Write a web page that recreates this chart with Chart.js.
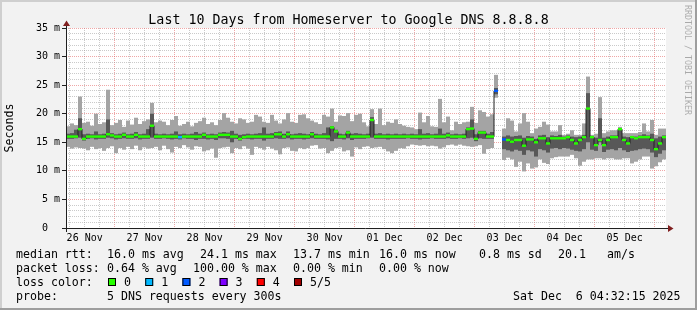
<!DOCTYPE html>
<html><head><meta charset="utf-8">
<script src="https://cdn.jsdelivr.net/npm/chart.js@4.4.1/dist/chart.umd.min.js"></script>
<style>html,body{margin:0;padding:0;background:#f2f2f2;}canvas{display:block;}</style>
</head><body>
<canvas id="c" width="697" height="310"></canvas>
<script>
// ---- data ----
const dayLabels = ['26 Nov','27 Nov','28 Nov','29 Nov','30 Nov','01 Dec','02 Dec','03 Dec','04 Dec','05 Dec'];
const startMinute = 272;     // 26 Nov 04:32 (minutes after 26 Nov 00:00)
const spanMinutes = 14400;   // 10 days
const stepMinutes = 96;      // one sample column
const hiVals = [17.8,18.3,18.0,23.0,18.4,18.6,17.9,20.0,18.2,18.5,
 24.2,18.0,18.4,18.9,17.7,18.8,18.1,19.3,18.2,18.7,
 19.0,21.9,18.5,18.8,18.6,18.0,18.9,19.6,17.9,18.2,
 18.6,17.8,18.4,18.7,19.3,18.2,18.5,18.0,18.9,20.1,
 19.3,18.6,18.3,19.2,19.0,18.4,18.6,19.8,19.5,18.6,
 18.4,19.8,18.8,18.3,19.0,20.1,18.6,18.4,19.8,19.9,
 19.2,18.8,18.5,18.2,19.8,19.5,20.9,18.6,19.7,19.6,
 20.1,18.7,19.8,20.0,18.5,17.8,20.8,18.2,20.9,18.0,
 18.6,18.4,19.0,18.2,17.9,17.7,17.6,17.3,20.2,18.5,
 19.6,17.8,17.7,22.6,18.5,19.5,17.1,18.6,18.2,18.5,
 18.6,21.2,18.4,20.6,20.3,19.5,19.9,26.8,null,17.4,
 19.2,18.8,16.9,18.3,20.1,18.6,16.6,17.4,17.7,18.6,
 18.1,16.9,16.9,18.0,16.3,16.5,17.1,16.3,16.3,18.3,
 26.5,16.3,16.5,22.9,16.6,16.9,17.1,17.1,17.7,16.6,
 16.6,16.6,16.6,16.8,18.3,16.9,18.9,16.3,17.4,17.4];
const loVals = [14.2,13.9,14.1,14.0,13.9,13.6,14.2,13.8,14.0,13.5,
 14.0,14.3,13.1,14.0,13.7,14.2,13.8,14.4,13.6,14.1,
 13.9,14.0,14.2,13.6,14.4,13.8,13.2,14.2,14.0,14.5,
 14.1,13.7,14.3,14.2,13.4,13.6,13.9,12.3,14.0,14.1,
 14.2,13.1,14.0,13.8,14.3,13.9,12.8,14.2,14.0,13.7,
 14.2,13.9,13.6,12.9,14.0,14.1,13.5,13.4,14.0,13.8,
 14.0,14.4,14.5,13.9,14.0,13.1,13.5,14.0,14.1,13.4,
 13.6,12.5,14.1,13.8,14.2,14.3,14.0,14.1,14.2,13.8,
 13.4,13.1,13.5,14.0,13.9,14.3,14.6,14.5,14.4,14.5,
 14.3,14.4,14.3,13.9,14.1,14.5,14.6,14.4,14.6,14.4,
 14.3,14.2,14.3,14.5,13.0,13.8,14.0,22.8,null,11.9,
 12.3,12.0,10.7,11.6,9.9,11.3,10.4,10.6,12.0,11.4,
 11.2,12.2,12.4,12.5,12.5,12.5,12.8,12.2,10.9,11.6,
 12.0,12.0,12.2,12.2,12.0,12.2,12.2,12.0,12.0,12.2,
 12.2,11.3,11.6,12.0,12.5,12.5,10.4,10.8,11.5,12.0];
const darkHi = [16.5,16.6,17.2,19.2,16.4,16.5,16.4,16.9,16.4,16.5,
 19.0,16.6,16.4,16.5,16.7,16.4,16.5,16.8,16.4,16.5,
 17.3,20.0,16.5,16.4,16.5,16.4,16.5,16.9,16.4,16.5,
 16.4,16.5,16.8,16.5,16.7,16.4,16.5,16.4,16.7,16.8,
 16.7,17.0,16.5,16.3,16.4,16.5,16.4,16.5,16.6,17.6,
 16.5,16.6,16.8,16.9,16.5,16.9,16.4,16.5,16.6,16.5,
 16.4,16.8,16.5,16.4,16.6,17.6,17.8,17.2,16.5,16.4,
 17.0,16.5,16.6,16.5,16.4,16.5,19.4,16.5,16.6,16.4,
 16.5,16.4,16.5,16.4,16.5,16.4,16.5,16.4,17.3,16.5,
 16.6,16.4,16.5,17.4,16.5,16.7,16.4,16.5,16.4,16.5,
 17.6,19.0,16.4,17.0,17.0,16.5,16.8,24.5,null,16.0,
 16.2,16.0,16.1,16.2,15.8,16.1,16.0,15.6,16.2,16.3,
 15.9,16.2,16.1,16.3,16.0,16.2,16.0,15.9,16.0,16.3,
 23.6,16.1,15.8,19.2,15.8,16.0,16.2,16.2,17.5,16.0,
 15.9,16.1,16.0,16.2,16.4,16.2,16.5,15.7,16.0,16.2];
const darkLo = [15.6,15.6,15.7,15.8,15.3,15.6,15.7,15.5,15.6,15.6,
 15.8,15.7,15.5,15.6,15.7,15.6,15.6,15.7,15.5,15.6,
 15.6,15.8,15.6,15.6,15.7,15.6,15.5,15.6,15.5,15.7,
 15.6,15.6,15.4,15.6,15.6,15.5,15.6,15.4,15.7,15.7,
 15.6,15.0,15.6,15.3,15.6,15.6,15.5,15.6,15.6,15.3,
 15.6,15.6,15.7,15.6,15.6,15.7,15.5,15.6,15.6,15.5,
 15.6,15.7,15.6,15.6,15.6,15.5,15.2,15.6,15.6,15.5,
 15.7,15.4,15.6,15.6,15.6,15.7,15.8,15.6,15.6,15.6,
 15.5,15.6,15.6,15.6,15.6,15.7,15.6,15.6,15.5,15.6,
 15.6,15.7,15.6,15.6,15.6,15.7,15.6,15.6,15.7,15.6,
 15.7,15.8,15.2,15.7,15.6,15.6,15.6,23.4,null,13.8,
 13.6,13.4,13.7,13.5,12.8,13.6,13.4,12.5,13.8,13.6,
 13.2,13.9,14.0,13.8,14.0,13.9,13.7,13.5,13.4,13.8,
 15.0,13.7,13.5,15.0,13.3,13.7,13.8,13.6,14.0,13.6,
 13.3,13.5,13.6,13.8,13.9,13.8,13.2,12.4,13.0,13.6];
const medVals = [16.0,16.0,16.0,17.3,15.6,16.0,16.0,16.0,16.0,16.0,
 16.4,16.2,16.0,16.0,16.3,16.0,16.0,16.3,16.0,16.0,
 16.0,17.9,16.0,16.0,16.0,16.0,16.0,16.0,15.9,16.0,
 16.0,16.0,16.0,16.0,16.3,16.0,16.0,16.0,16.3,16.3,
 16.3,16.0,16.0,15.6,15.9,16.0,16.0,16.0,16.0,16.0,
 16.0,16.0,16.4,16.4,16.0,16.4,16.0,16.0,16.0,16.0,
 16.0,16.4,16.0,16.0,16.0,16.0,17.6,16.9,16.0,16.0,
 16.7,16.0,16.0,16.0,16.0,16.0,18.9,16.0,16.0,16.0,
 16.0,16.0,16.0,16.0,16.0,16.0,16.0,16.0,16.0,16.0,
 16.0,16.0,16.0,16.0,16.0,16.2,16.0,16.0,16.0,16.0,
 17.3,17.4,15.6,16.7,16.7,16.0,16.0,24.0,null,15.5,
 15.4,15.1,15.4,15.4,14.4,15.5,15.5,15.0,15.7,15.7,
 14.8,15.7,15.7,15.7,15.7,15.9,15.4,14.8,15.4,15.9,
 20.9,15.9,14.5,15.4,14.5,15.4,15.9,15.9,17.3,15.4,
 14.8,15.9,15.7,15.9,15.9,15.9,15.4,13.8,14.8,15.9];
const lossVals = [0,0,0,0,0,0,0,0,0,0, 0,0,0,0,0,0,0,0,0,0,
 0,0,0,0,0,0,0,0,1,0, 0,0,0,0,0,0,0,0,0,0,
 0,0,0,0,0,0,0,0,0,0, 0,0,0,0,0,0,0,0,0,0,
 0,0,0,0,0,0,0,0,0,0, 0,0,0,0,0,0,0,0,0,0,
 0,0,0,0,0,0,0,0,0,0, 0,0,0,0,0,0,0,0,0,0,
 0,0,0,0,0,0,0,2,null,2, 0,0,0,0,0,0,0,0,0,0,
 0,0,0,0,0,0,0,0,0,0, 0,0,0,0,0,0,0,0,0,0,
 0,0,0,0,0,0,0,0,0,0];
const lossColors = ['#26ff00','#00b8ff','#0059ff','#7e00ff','#ff0000','#a00000'];
const lossLabels = ['0','1','2','3','4','5/5'];
const yMax = 35;
const statLines = [
  ['median rtt:','16.0 ms avg','24.1 ms max','13.7 ms min','16.0 ms now','0.8 ms sd','20.1','am/s'],
  ['packet loss:','0.64 % avg','100.00 % max','0.00 % min','0.00 % now']
];
const titleText = 'Last 10 Days from Homeserver to Google DNS 8.8.8.8';
const probeText = ['probe:','5 DNS requests every 300s'];
const stampText = 'Sat Dec  6 04:32:15 2025';
const watermark = 'RRDTOOL / TOBI OETIKER';

// ---- build ----
const FONT = '"DejaVu Sans Mono", "Liberation Mono", monospace';
const xs = hiVals.map((_, i) => startMinute + stepMinutes / 2 + i * stepMinutes);
const band = (a, b) => xs.map((x, i) => ({x, y: (a[i] == null || b[i] == null) ? null : [a[i], b[i]]}));
const MH = 0.21;
const medBand = xs.map((x, i) => ({x, y: medVals[i] == null ? null : [medVals[i] - MH, medVals[i] + MH]}));
const medColors = lossVals.map(l => l == null ? 'rgba(0,0,0,0)' : lossColors[l]);
const medLine = xs.map((x, i) => ({x, y: medVals[i]}));

const MAJOR = 'rgba(225,95,95,0.55)';
const MINOR = 'rgba(150,150,150,0.5)';

const deco = {
  id: 'deco',
  beforeDraw(chart) {
    const {ctx, chartArea: a, width: w, height: h} = chart;
    ctx.save();
    ctx.fillStyle = '#f2f2f2'; ctx.fillRect(0, 0, w, h);
    ctx.fillStyle = '#ffffff'; ctx.fillRect(a.left, a.top, a.right - a.left, a.bottom - a.top);
    ctx.fillStyle = '#cfcfcf'; ctx.fillRect(0, 0, w, 2); ctx.fillRect(0, 0, 2, h);
    ctx.fillStyle = '#9e9e9e'; ctx.fillRect(0, h - 2, w, 2); ctx.fillRect(w - 2, 0, 2, h);
    ctx.restore();
  },
  afterDatasetsDraw(chart) {
    const {ctx, chartArea: a} = chart;
    const ax = a.left + 0.5, ay = a.bottom + 0.5;
    ctx.save();
    ctx.strokeStyle = '#1f1f1f'; ctx.lineWidth = 1;
    ctx.beginPath();
    ctx.moveTo(ax, a.bottom + 4); ctx.lineTo(ax, a.top - 3);
    ctx.moveTo(a.left - 4, ay); ctx.lineTo(a.right + 3, ay);
    ctx.stroke();
    ctx.fillStyle = '#801f1f';
    ctx.beginPath();
    ctx.moveTo(ax - 3.5, a.top - 2); ctx.lineTo(ax + 3.5, a.top - 2); ctx.lineTo(ax, a.top - 7.5); ctx.closePath(); ctx.fill();
    ctx.beginPath();
    ctx.moveTo(a.right + 2, ay - 3.5); ctx.lineTo(a.right + 2, ay + 3.5); ctx.lineTo(a.right + 7.5, ay); ctx.closePath(); ctx.fill();
    ctx.restore();
  },
  afterDraw(chart) {
    const {ctx, width: w} = chart;
    ctx.save();
    ctx.fillStyle = '#000';
    ctx.textBaseline = 'alphabetic';
    ctx.font = '13.3px ' + FONT;
    ctx.textAlign = 'center';
    ctx.fillText(titleText, w / 2, 24);
    ctx.textAlign = 'left';
    ctx.font = '11.6px ' + FONT;
    const col1 = [16, 107, 200, 293, 379, 479, 558, 607];
    const col2 = [16, 107, 193, 293, 379];
    statLines[0].forEach((t, i) => ctx.fillText(t, col1[i], 257.5));
    statLines[1].forEach((t, i) => ctx.fillText(t, col2[i], 271.8));
    ctx.fillText('loss color:', 16, 286);
    lossLabels.forEach((t, i) => {
      const bx = 108 + i * 37.2;
      ctx.fillStyle = lossColors[i];
      ctx.fillRect(bx, 278, 8, 8);
      ctx.strokeStyle = '#000'; ctx.lineWidth = 1;
      ctx.strokeRect(bx + 0.5, 278.5, 7, 7);
      ctx.fillStyle = '#000';
      ctx.fillText(t, bx + 16, 286);
    });
    ctx.fillText(probeText[0], 16, 300.3);
    ctx.fillText(probeText[1], 107, 300.3);
    ctx.fillText(stampText, 513, 300.3);
    // watermark
    ctx.translate(685, 5);
    ctx.rotate(Math.PI / 2);
    ctx.font = '8.3px ' + FONT;
    ctx.fillStyle = 'rgba(0,0,0,0.3)';
    ctx.textBaseline = 'alphabetic';
    ctx.fillText(watermark, 0, 0);
    ctx.restore();
  }
};

const xTicks = [];
for (let t = 360; t < startMinute + spanMinutes; t += 360) if (t > startMinute) xTicks.push(t);
const yTicks = [];
for (let v = 0; v <= yMax; v++) yTicks.push(v);

new Chart(document.getElementById('c'), {
  type: 'bar',
  data: {
    datasets: [
      {type: 'bar', data: medBand, backgroundColor: medColors, order: 1, grouped: false},
      {type: 'line', data: medLine, borderColor: '#202020', borderWidth: 1, stepped: 'middle', pointRadius: 0, spanGaps: false, order: 2},
      {type: 'bar', data: band(darkLo, darkHi), backgroundColor: '#585858', order: 3, grouped: false},
      {type: 'bar', data: band(loVals, hiVals), backgroundColor: '#a4a4a4', order: 4, grouped: false}
    ]
  },
  options: {
    responsive: false,
    animation: false,
    devicePixelRatio: 1,
    layout: {padding: {top: 28, right: 31, bottom: 0, left: 0}},
    datasets: {bar: {barPercentage: 1, categoryPercentage: 1, borderWidth: 0, inflateAmount: 0}},
    plugins: {legend: {display: false}, tooltip: {enabled: false}, title: {display: false}},
    scales: {
      x: {
        type: 'linear', min: startMinute, max: startMinute + spanMinutes, offset: false,
        afterBuildTicks: s => { s.ticks = xTicks.map(v => ({value: v})); },
        afterFit: s => { s.height = 82; },
        grid: {offset: false, drawTicks: false, lineWidth: 1,
          color: c => (c.tick && c.tick.value % 1440 === 0) ? MAJOR : MINOR},
        border: {display: false, dash: [1, 1]},
        ticks: {autoSkip: false, maxRotation: 0, minRotation: 0, padding: 4, color: '#000',
          font: {family: FONT, size: 10},
          callback: v => (v % 1440 === 720) ? dayLabels[Math.floor(v / 1440)] : ''}
      },
      y: {
        type: 'linear', min: 0, max: yMax,
        afterBuildTicks: s => { s.ticks = yTicks.map(v => ({value: v})); },
        afterFit: s => { s.width = 66; },
        grid: {drawTicks: true, tickLength: 4, lineWidth: 1,
          color: c => (c.tick && c.tick.value % 5 === 0) ? MAJOR : MINOR,
          tickColor: c => (c.tick && c.tick.value % 5 === 0) ? '#1f1f1f' : 'rgba(0,0,0,0)'},
        border: {display: false, dash: [1, 1]},
        ticks: {autoSkip: false, padding: 2, color: '#000', font: {family: FONT, size: 10},
          callback: v => v % 5 === 0 ? (v === 0 ? '0  ' : v + ' m') : ''},
        title: {display: true, text: 'Seconds', color: '#000', font: {family: FONT, size: 11.6}, padding: {top: 3, bottom: 0}}
      }
    }
  },
  plugins: [deco]
});
</script>
</body></html>
